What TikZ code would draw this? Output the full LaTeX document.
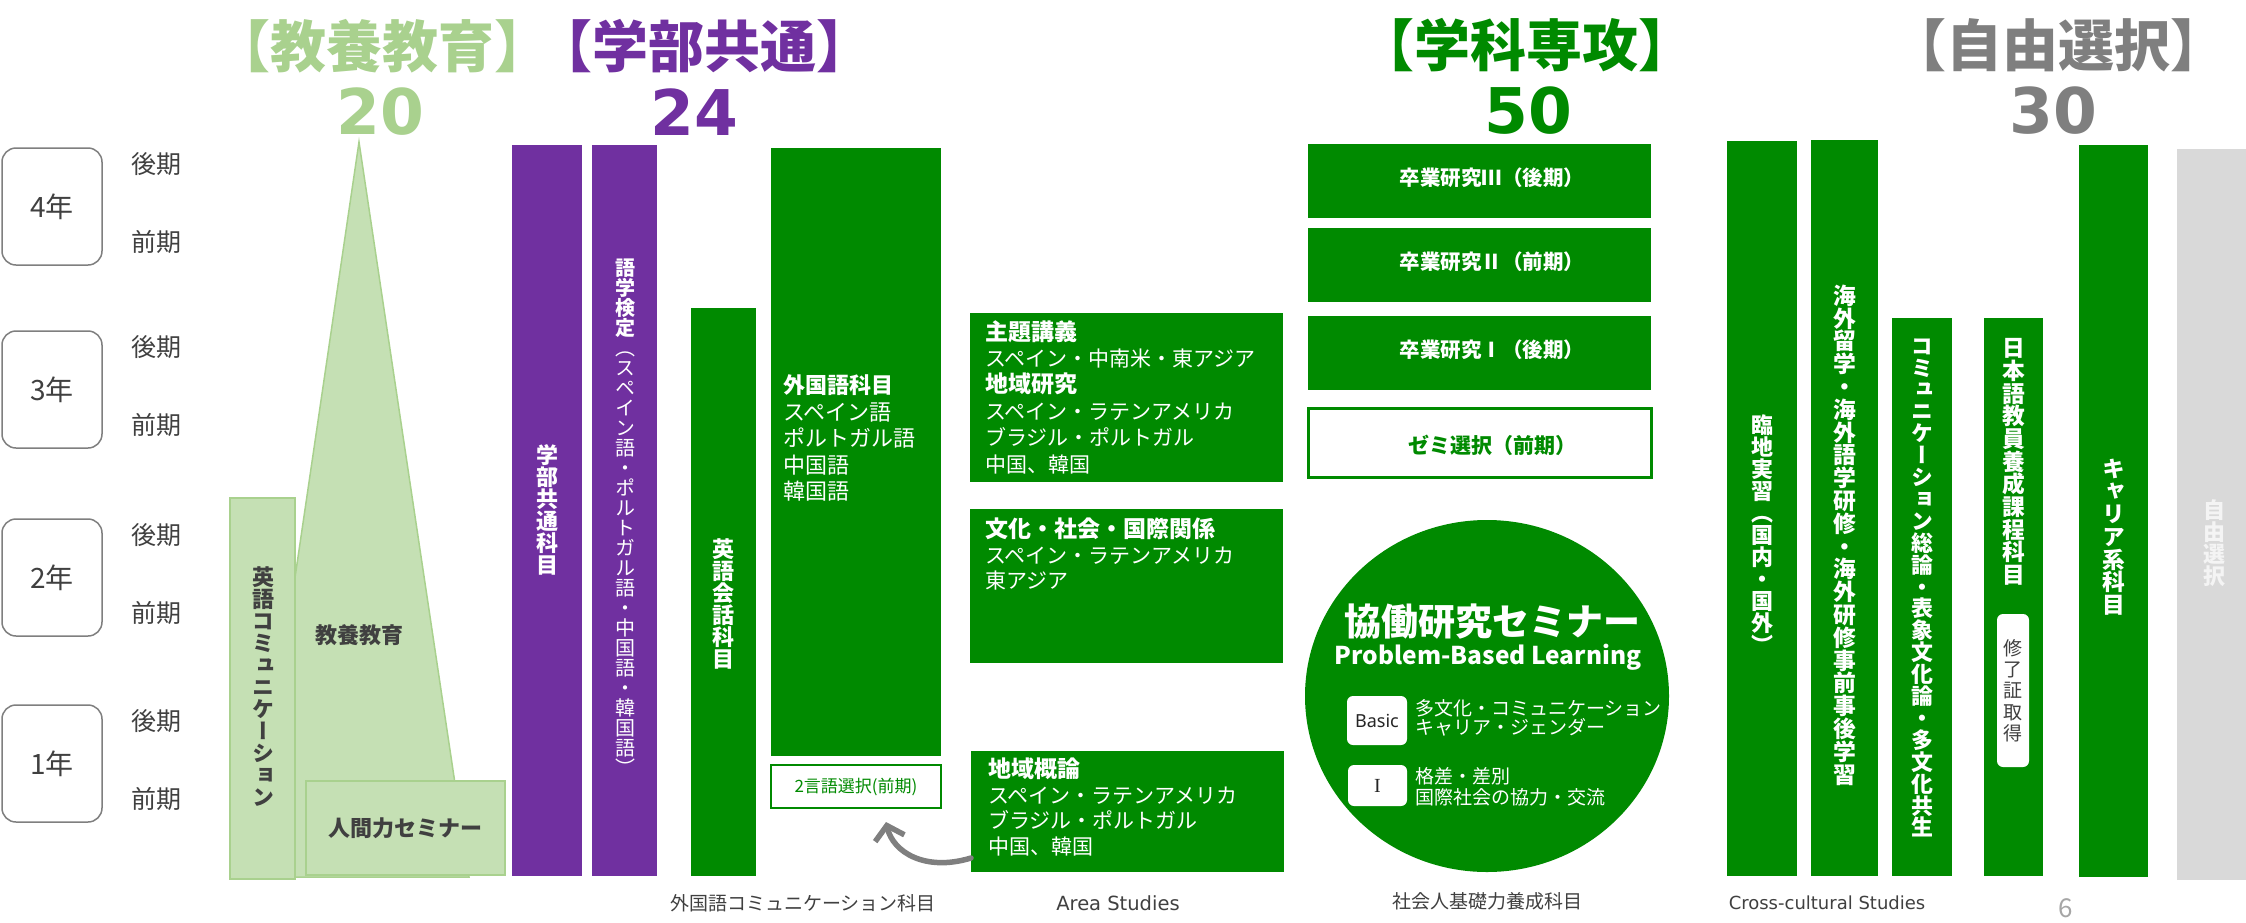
\documentclass[tikz,border=0pt]{standalone}
\usepackage{fontspec}
\setmainfont{Noto Sans CJK JP}
\newfontfamily\jpv{Noto Sans CJK JP}[RawFeature=+vert]
\newfontfamily\dejavu{DejaVu Sans}
\newfontfamily\nsans{Noto Sans}
\newfontfamily\lserif{Liberation Serif}
\usetikzlibrary{arrows.meta,shapes.geometric}
\definecolor{lgfill}{HTML}{C5E0B4}
\definecolor{lgdraw}{HTML}{A9D18E}
\definecolor{lgtitle}{HTML}{A9D18E}
\definecolor{purp}{HTML}{7030A0}
\definecolor{grn}{HTML}{008A00}
\definecolor{gtitle}{HTML}{7F7F7F}
\definecolor{gbarc}{HTML}{D9D9D9}
\definecolor{jiyutxt}{HTML}{F4F4F4}
\definecolor{dk}{HTML}{404040}
\definecolor{arrowc}{HTML}{7F7F7F}
\definecolor{pgnum}{HTML}{A6A6A6}
\ExplSyntaxOn
\NewDocumentCommand\vtxt{m}{\tl_map_inline:nn{#1}{\hbox~to~1em{\hss##1\hss}}}
\ExplSyntaxOff
\newcommand\vcol[2][1]{\vbox{\jpv\baselineskip=#1em\lineskiplimit=-\maxdimen\lineskip=0pt\relax #2}}
\newcommand\hd[1]{{\fontsize{23}{26}\selectfont\bfseries #1}}
\newcommand\brk[1]{\kern-0.42em【#1】\kern-0.42em}
\tikzset{
  every node/.style={inner sep=0pt, outer sep=0pt},
  yearbox/.style={draw=gtitle, line width=1.5pt, rounded corners=14pt, minimum width=100, minimum height=117, anchor=north west, text=dk, font=\fontsize{28}{28}\selectfont},
  semlbl/.style={text=dk, font=\fontsize{25}{25}\selectfont},
  lgrect/.style={fill=lgfill, draw=lgdraw, line width=1.5pt, anchor=north west},
  pbar/.style={fill=purp, anchor=north west},
  gbox/.style={fill=grn, anchor=north west},
  obox/.style={fill=white, draw=grn, anchor=north west},
  graybar/.style={fill=gbarc, anchor=north west},
  vwhite/.style={text=white, font=\fontsize{22}{22}\selectfont\bfseries},
  vdark/.style={text=dk, font=\fontsize{22}{22}\selectfont\bfseries},
  ttl/.style={font=\fontsize{56}{56}\selectfont\bfseries},
  numtxt/.style={font=\dejavu\fontsize{63}{63}\selectfont\bfseries},
  captxt/.style={text=dk, font=\fontsize{19}{19}\selectfont},
  listtxt/.style={text=white, anchor=west, align=left},
  wbox/.style={fill=white, rounded corners=6pt, anchor=north west},
}
\begin{document}
\begin{tikzpicture}[x=1pt, y=-1pt]
\useasboundingbox (0,0) rectangle (2246,922);
\fill[white] (0,0) rectangle (2246,922);

% titles
\node[ttl, text=lgtitle] (t1) at (382,46) {\brk{教養教育}};
\node[numtxt, text=lgtitle] (n1) at (380,112) {20};
\node[ttl, text=purp] (t2) at (704,46) {\brk{学部共通}};
\node[numtxt, text=purp] (n2) at (694,112) {24};
\node[ttl, text=grn] (t3) at (1526,45) {\brk{学科専攻}};
\node[numtxt, text=grn] (n3) at (1528,111) {50};
\node[ttl, text=gtitle] (t4) at (2058,45) {\brk{自由選択}};
\node[numtxt, text=gtitle] (n4) at (2053,111) {30};

% years
\node[yearbox] (y4) at (2,148) {4年};
\node[yearbox] (y3) at (2,331) {3年};
\node[yearbox] (y2) at (2,519) {2年};
\node[yearbox] (y1) at (2,705) {1年};
\node[semlbl] (s4b) at (156,164) {後期};
\node[semlbl] (s4a) at (156,242) {前期};
\node[semlbl] (s3b) at (156,347) {後期};
\node[semlbl] (s3a) at (156,425) {前期};
\node[semlbl] (s2b) at (156,535) {後期};
\node[semlbl] (s2a) at (156,613) {前期};
\node[semlbl] (s1b) at (156,721) {後期};
\node[semlbl] (s1a) at (156,799) {前期};

% liberal arts
\fill[lgfill, draw=lgdraw, line width=1.5pt] (359,142) -- (469,877) -- (251,877) -- cycle;
\node[vdark] (kyoyo) at (359,635) {教養教育};
\node[lgrect, minimum width=65, minimum height=381] (eigocomm) at (230,498) {};
\node[vdark] (eigocomm-t) at (263,687) {\vcol{\vtxt{英語コミュニケーション}}};
\node[lgrect, minimum width=199, minimum height=94, text=dk, font=\fontsize{22}{22}\selectfont\bfseries] (ningen) at (306,781) {人間力セミナー};

% faculty common
\node[pbar, minimum width=70, minimum height=731] (gakubu) at (512,145) {};
\node[vwhite] (gakubu-t) at (547,510) {\vcol{\vtxt{学部共通科目}}};
\node[pbar, minimum width=65, minimum height=731] (kentei) at (592,145) {};
\node[text=white, font=\fontsize{20}{20}\selectfont] (kentei-t) at (625,517) {\vcol{{\bfseries\vtxt{語学検定}}\vtxt{（スペイン語・ポルトガル語・中国語・韓国語）}}};

% foreign language communication
\node[gbox, minimum width=65, minimum height=568] (eikaiwa) at (691,308) {};
\node[vwhite] (eikaiwa-t) at (723.5,604) {\vcol{\vtxt{英語会話科目}}};
\node[gbox, minimum width=170, minimum height=608] (gaikoku) at (771,148) {};
\node[listtxt, font=\fontsize{22}{26.5}\selectfont] (gaikoku-t) at (783,438) {\textbf{外国語科目}\\スペイン語\\ポルトガル語\\中国語\\韓国語};
\node[obox, line width=2.5pt, minimum width=170, minimum height=43, text=grn, font=\fontsize{17}{17}\selectfont] (nigengo) at (771,765) {2言語選択(前期)};

% area studies
\node[gbox, minimum width=313, minimum height=169] (shudai) at (970,313) {};
\node[listtxt, font=\fontsize{21}{26.4}\selectfont] (shudai-t) at (985,397) {\hd{主題講義}\\スペイン・中南米・東アジア\\\hd{地域研究}\\スペイン・ラテンアメリカ\\ブラジル・ポルトガル\\中国、韓国};
\node[gbox, minimum width=313, minimum height=154] (bunka) at (970,509) {};
\node[listtxt, font=\fontsize{21}{25.3}\selectfont] (bunka-t) at (985,554) {\hd{文化・社会・国際関係}\\スペイン・ラテンアメリカ\\東アジア};
\node[gbox, minimum width=313, minimum height=121] (chiiki) at (971,751) {};
\node[listtxt, font=\fontsize{21}{25.5}\selectfont] (chiiki-t) at (988,807) {\hd{地域概論}\\スペイン・ラテンアメリカ\\ブラジル・ポルトガル\\中国、韓国};

\coordinate (arrY) at (0,858);
\coordinate (arrtip) at (886,822);
\draw[arrowc, line width=5.5pt, line cap=round, -{Straight Barb[length=13pt, width=30pt]}] (chiiki.west |- arrY) .. controls (925,872) and (893,852) .. (arrtip);

% graduation research
\node[gbox, minimum width=343, minimum height=74] (sotsu3) at (1308,144) {};
\node[text=white, font=\fontsize{20.5}{20.5}\selectfont\bfseries] (sotsu3-t) at (1492,178) {卒業研究Ⅲ（後期）};
\node[gbox, minimum width=343, minimum height=74] (sotsu2) at (1308,228) {};
\node[text=white, font=\fontsize{20.5}{20.5}\selectfont\bfseries] (sotsu2-t) at (1492,262) {卒業研究Ⅱ（前期）};
\node[gbox, minimum width=343, minimum height=74] (sotsu1) at (1308,316) {};
\node[text=white, font=\fontsize{20.5}{20.5}\selectfont\bfseries] (sotsu1-t) at (1492,350) {卒業研究Ⅰ（後期）};
\node[obox, line width=3pt, minimum width=343, minimum height=69] (zemi) at (1308,408) {};
\node[text=grn, font=\fontsize{21}{21}\selectfont\bfseries] (zemi-t) at (1492,445) {ゼミ選択（前期）};

% PBL
\node[ellipse, fill=grn, minimum width=364, minimum height=352] (pbl) at (1487,696) {};
\node[text=white, font=\fontsize{37}{37}\selectfont\bfseries] (pbl-t) at (1492,622) {協働研究セミナー};
\node[text=white, font=\fontsize{24.5}{24.5}\selectfont\bfseries] (pbl-e) at (1488,657) {Problem-Based Learning};
\node[wbox, minimum width=60, minimum height=49, text=black!85, font=\nsans\fontsize{18}{18}\selectfont] (basic) at (1347,696) {Basic};
\node[listtxt, font=\fontsize{19}{19}\selectfont] (basic-t) at (1415,717.5) {多文化・コミュニケーション\\キャリア・ジェンダー};
\node[wbox, minimum width=59, minimum height=41, text=black!85, font=\lserif\fontsize{20}{20}\selectfont] (lv1) at (1348,765) {I};
\node[listtxt, font=\fontsize{19}{21}\selectfont] (lv1-t) at (1415,786.5) {格差・差別\\国際社会の協力・交流};

% cross-cultural
\node[gbox, minimum width=70, minimum height=735] (rinchi) at (1727,141) {};
\node[vwhite] (rinchi-t) at (1762,534) {\vcol{\vtxt{臨地実習（国内・国外）}}};
\node[gbox, minimum width=67, minimum height=736] (kaigai) at (1811,140) {};
\node[vwhite, font=\fontsize{22.8}{22.8}\selectfont\bfseries] (kaigai-t) at (1845,535) {\vcol{\vtxt{海外留学・海外語学研修・海外研修事前事後学習}}};
\node[gbox, minimum width=60, minimum height=558] (comm) at (1892,318) {};
\node[vwhite, font=\fontsize{21.9}{21.9}\selectfont\bfseries] (comm-t) at (1922,588) {\vcol{\vtxt{コミュニケーション総論・表象文化論・多文化共生}}};
\node[gbox, minimum width=59, minimum height=558] (nihongo) at (1984,318) {};
\node[vwhite, font=\fontsize{22.7}{22.7}\selectfont\bfseries] (nihongo-t) at (2013.5,462) {\vcol{\vtxt{日本語教員養成課程科目}}};
\node[wbox, minimum width=32, minimum height=153] (shuryo) at (1997,614) {};
\node[text=dk, font=\fontsize{19}{19}\selectfont] (shuryo-t) at (2013,690.5) {\vcol[1.12]{\vtxt{修了証取得}}};
\node[gbox, minimum width=69, minimum height=732] (career) at (2079,145) {};
\node[vwhite, font=\fontsize{22.7}{22.7}\selectfont\bfseries] (career-t) at (2114,537) {\vcol{\vtxt{キャリア系科目}}};
\node[graybar, minimum width=69, minimum height=731] (jiyu) at (2177,149) {};
\node[text=jiyutxt, font=\fontsize{22}{22}\selectfont\bfseries] (jiyu-t) at (2214,543) {\vcol{\vtxt{自由選択}}};

% captions
\node[captxt] (cap1) at (803,903) {外国語コミュニケーション科目};
\node[captxt, font=\dejavu\fontsize{19.5}{19.5}\selectfont] (cap2) at (1118,903) {Area Studies};
\node[captxt] (cap3) at (1487.5,901) {社会人基礎力養成科目};
\node[captxt, font=\dejavu\fontsize{18}{18}\selectfont] (cap4) at (1827,903) {Cross-cultural Studies};
\node[text=pgnum, font=\fontsize{26}{26}\selectfont] (page) at (2066,908) {6};
\end{tikzpicture}
\end{document}
